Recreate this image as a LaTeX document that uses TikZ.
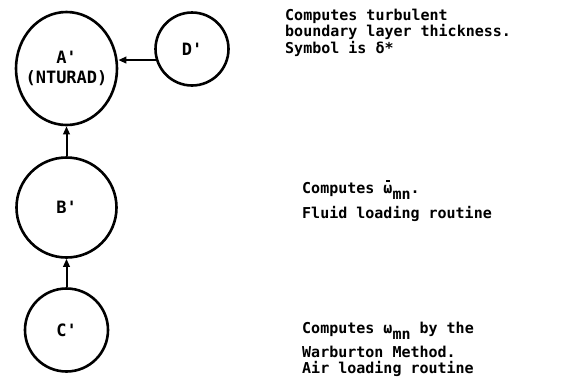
\documentclass[tikz,border=0pt]{standalone}
\usepackage{fontspec}
\setmonofont{DejaVu Sans Mono}
\usetikzlibrary{shapes.geometric,arrows.meta}
\newcommand\wbar{\leavevmode\rlap{\hspace{0.17em}\raisebox{0.74em}{\rule{0.25em}{0.1em}}}ω}
\newcommand\sublow[1]{\raisebox{-6pt}{#1}}
\begin{document}
\begin{tikzpicture}[x=1pt,y=-1pt,
  proc/.style={circle,draw,line width=2.6pt,inner sep=0pt,align=center,
    font=\ttfamily\bfseries\fontsize{17}{20}\selectfont},
  desc/.style={anchor=base west,inner sep=0pt,
    font=\ttfamily\bfseries\fontsize{15}{17}\selectfont},
  flow/.style={-{Triangle[length=8pt,width=6.5pt]},line width=2pt}]
\useasboundingbox (0,0) rectangle (575,381);
\node[proc,ellipse,inner xsep=-9pt,minimum width=101pt,minimum height=113pt] (A) at (66.5,68.5) {A'\\(NTURAD)};
\node[proc,minimum size=73pt] (D) at (192,49) {D'};
\node[proc,minimum size=100pt] (B) at (66.5,207.5) {B'};
\node[proc,minimum size=83pt] (C) at (66.5,330) {C'};
\draw[flow] (D.197) -- (D.197 -| A.east);
\draw[flow] (B) -- (A);
\draw[flow] (C) -- (B);
\node[desc] (tA1) at (285,20) {Computes turbulent};
\node[desc] (tA2) at (285,36.5) {boundary layer thickness.};
\node[desc] (tA3) at (285,53) {Symbol is δ*};
\node[desc] (tB1) at (302,193) {Computes \wbar\sublow{mn}.};
\node[desc] (tB2) at (302,218) {Fluid loading routine};
\node[desc] (tC1) at (302,333) {Computes ω\sublow{mn} by the};
\node[desc] (tC2) at (302,357) {Warburton Method.};
\node[desc] (tC3) at (302,373) {Air loading routine};
\end{tikzpicture}
\end{document}
